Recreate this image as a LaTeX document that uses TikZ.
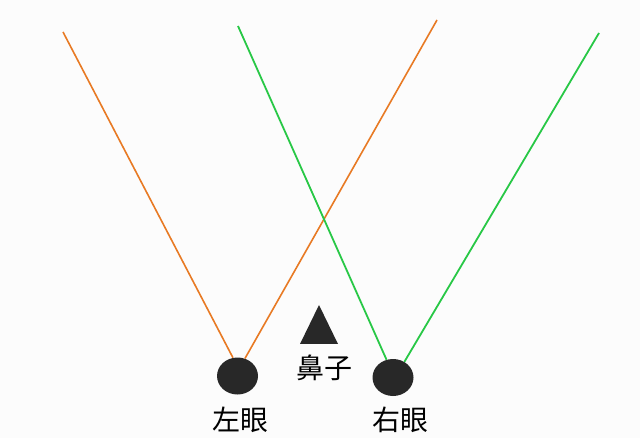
\documentclass[tikz,border=0pt]{standalone}
\usepackage{fontspec}
\usepackage{tikz}
\usetikzlibrary{shapes.geometric}
\newfontfamily\cjk{Noto Sans CJK SC}
\definecolor{rayorange}{RGB}{232,122,36}
\definecolor{raygreen}{RGB}{40,200,70}
\definecolor{eyegray}{RGB}{40,40,40}
\definecolor{paper}{RGB}{252,252,252}

\begin{document}
\begin{tikzpicture}[x=1pt,y=-1pt]
\fill[paper] (0,0) rectangle (640,438);
\useasboundingbox (0,0) rectangle (640,438);
\tikzset{eye/.style={ellipse,fill=eyegray,minimum width=41,minimum height=37,inner sep=0},
         word/.style={font=\cjk\fontsize{28}{28}\selectfont,inner sep=0}}

\node[eye] (L) at (237.5,376) {};
\node[eye] (R) at (393,377.5) {};
\node[word] (lt) at (240,420) {左眼};
\node[word] (rt) at (400,420) {右眼};
\node[word] (nt) at (324,368) {鼻子};
\fill[eyegray] (319,305) -- (338,344) -- (300,344) -- cycle;

\coordinate (a) at (63,32);
\coordinate (b) at (437,20);
\coordinate (c) at (238,26);
\coordinate (d) at (599,33);

\draw[rayorange,line width=1.6] (a) -- (L.104);
\draw[rayorange,line width=1.6] (b) -- (L.67);
\draw[raygreen,line width=1.8] (c) -- (R.110);
\draw[raygreen,line width=1.8] (d) -- (R.54);
\end{tikzpicture}
\end{document}
